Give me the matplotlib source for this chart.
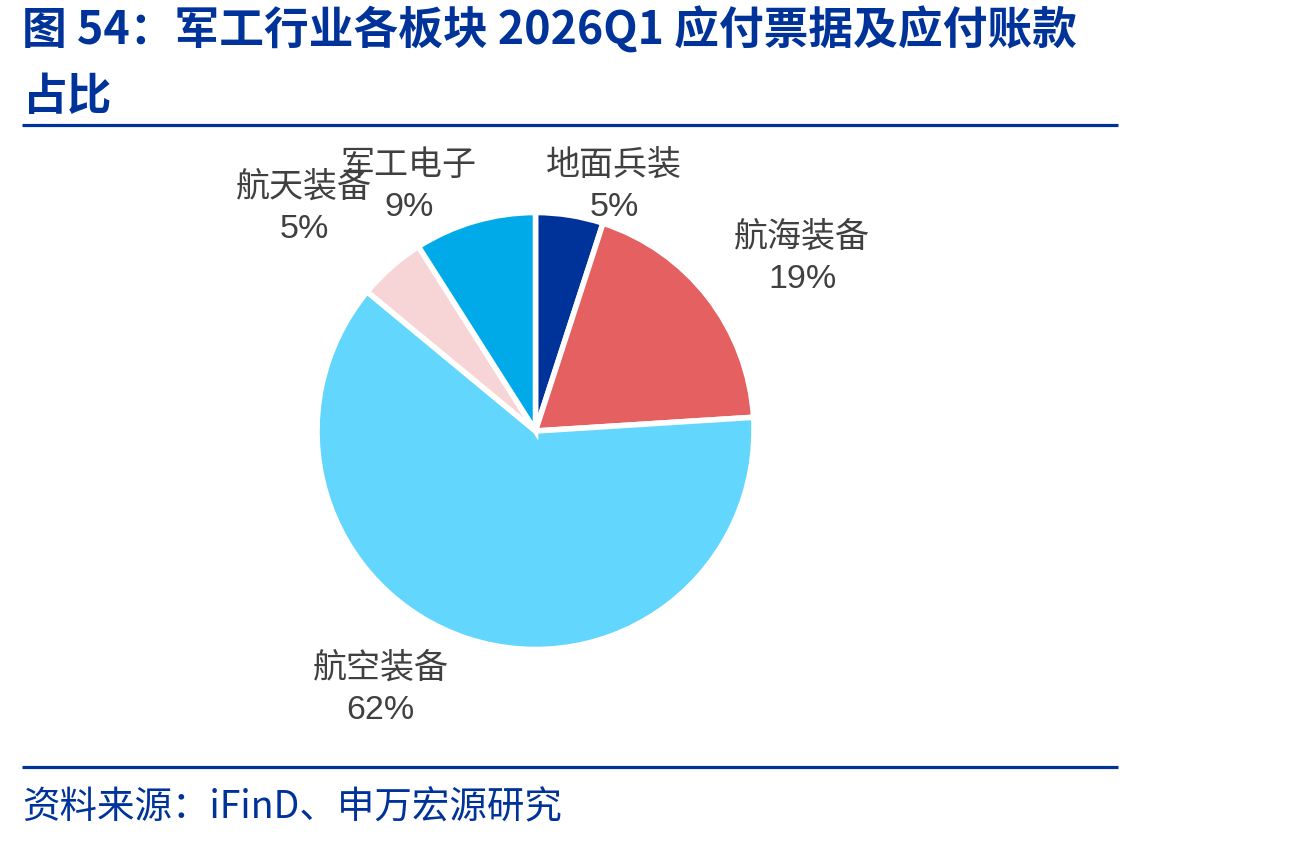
"""Pie of payables share by military-industry segment, 2026Q1."""

import matplotlib

matplotlib.use("Agg")
import matplotlib.pyplot as plt

plt.rcParams["font.family"] = ["Noto Sans CJK SC", "DejaVu Sans"]

# data (clockwise from 12 o'clock)
SEGMENTS = ["地面兵装", "航海装备", "航空装备", "航天装备", "军工电子"]
SHARES = [5, 19, 62, 5, 9]
COLORS = ["#003399", "#E46061", "#63D6FE", "#F7D5D6", "#00AAE9"]

# label anchor offsets in pie-radius units (relative to pie centre)
LABEL_POS = [(0.36, 1.12), (1.22, 0.79), (-0.71, -1.18), (-1.06, 1.02), (-0.58, 1.12)]

TITLE_1 = "图 54：军工行业各板块 2026Q1 应付票据及应付账款"
TITLE_2 = "占比"
SOURCE = "资料来源：iFinD、申万宏源研究"

NAVY = "#003399"
GREY = "#404040"

W, H = 1289, 842
CX, CY, R = 535.5, H - 431, 218.5

fig = plt.figure(figsize=(W / 100, H / 100), dpi=100)
ax = fig.add_axes([0, 0, 1, 1])

ax.pie(
    SHARES,
    colors=COLORS,
    startangle=90,
    counterclock=False,
    center=(CX, CY),
    radius=R,
    wedgeprops=dict(edgecolor="white", linewidth=4),
)
ax.set_xlim(0, W)
ax.set_ylim(0, H)
ax.set_aspect("equal")
ax.axis("off")

for name, share, (dx, dy) in zip(SEGMENTS, SHARES, LABEL_POS):
    ax.text(CX + dx * R, CY + dy * R, f"{name}\n{share}%", ha="center", va="center",
            fontsize=24.5, color=GREY, linespacing=1.42,
            family=["Liberation Sans", "Noto Sans CJK SC"])

# header / footer
ax.text(22, H - 31, TITLE_1, ha="left", va="center", fontsize=32.2,
        fontweight="bold", color=NAVY)
ax.text(22, H - 97, TITLE_2, ha="left", va="center", fontsize=32.2,
        fontweight="bold", color=NAVY)
ax.plot([22, 1118], [H - 125, H - 125], color=NAVY, lw=2.3, solid_capstyle="butt")
ax.plot([22, 1118], [H - 767, H - 767], color=NAVY, lw=2.3, solid_capstyle="butt")
ax.text(22, H - 808, SOURCE, ha="left", va="center", fontsize=27, color=NAVY)

fig.savefig("out.png", dpi=100)
